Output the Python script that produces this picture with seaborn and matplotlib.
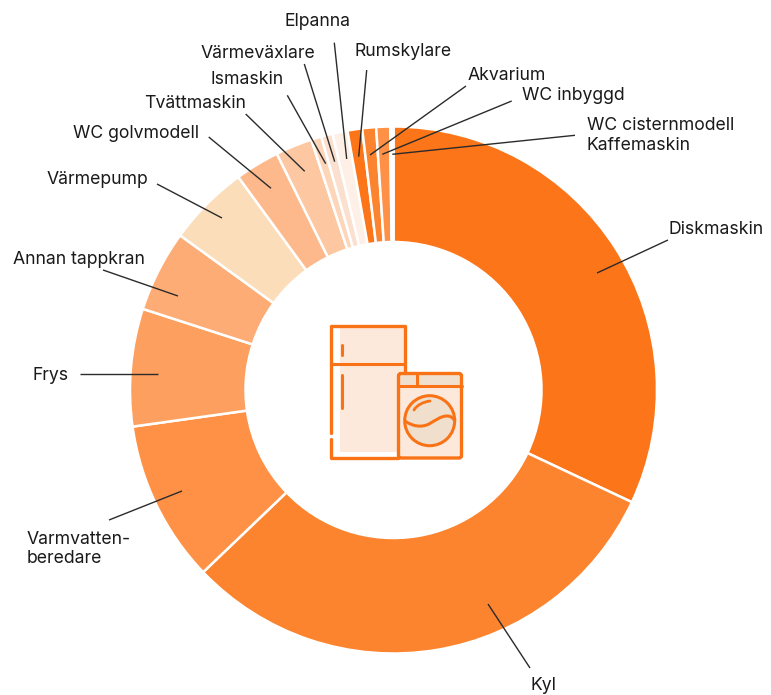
import matplotlib
matplotlib.use('Agg')
import matplotlib.pyplot as plt
import seaborn as sns
from matplotlib.patches import Rectangle, Circle, PathPatch, FancyBboxPatch
from matplotlib.path import Path

# Andelar per apparat (procent), medurs från kl 12
apparater = ['Diskmaskin', 'Kyl', 'Varmvatten-\nberedare', 'Frys', 'Annan tappkran', 'Värmepump',
             'WC golvmodell', 'Tvättmaskin', 'Ismaskin', 'Värmeväxlare', 'Elpanna', 'Rumskylare',
             'Akvarium', 'WC inbyggd', 'WC cisternmodell', 'Kaffemaskin']
andelar = [32.0, 30.85, 9.93, 7.2, 5.0, 5.0, 2.72, 2.25, 0.63, 0.7, 0.92, 0.9, 0.85, 0.85, 0.1, 0.1]
farger = ['#FC7518', '#FD842E', '#FE9146', '#FD9F5E', '#FEAC75', '#FBDDBA', '#FDB98B', '#FDC7A2',
          '#FDD5B9', '#FCE0CF', '#FEF0E7', '#FC7518', '#FD842E', '#FE9146', '#FEAC75', '#FDC7A2']

# Etiketter: vänsterkant x, mitten y, och linjens två ändar (pixlar i bilden)
etikett_x = [668, 530, 27, 33, 13, 47, 73, 144, 211, 201, 285, 355, 468, 522, 587, 587]
etikett_y = [230, 685, 549, 375, 259, 179, 133, 104, 79, 54, 21, 52, 75, 96, 125, 145]
linje_fran = [(668, 240), (530, 668), (109, 520), (80, 374), (103, 270), (157, 184), (208.7, 137),
              (245.7, 114), (287.3, 95.3), (304.3, 64), (334.3, 42.7), (366.7, 70), (466, 86),
              (511.7, 101), (575, 135.3), None]
linje_till = [(597, 273), (488, 604), (182, 491), (158, 374), (178, 296), (222, 218), (271, 188.3),
              (304.7, 171.3), (325.7, 163.7), (334.7, 161.7), (346.7, 159), (358.7, 156.7), (370, 155),
              (382.3, 154.3), (392.3, 154.3), None]

sns.set_theme(style='white')
plt.rcParams['font.family'] = ['Inter', 'DejaVu Sans']

B, H = 771, 695
fig = plt.figure(figsize=(B / 100, H / 100), dpi=100)
ax = fig.add_axes([0, 0, 1, 1])


def yy(y):
    return H - y


ax.pie(andelar, colors=farger, startangle=90, counterclock=False, center=(393.5, yy(390)), radius=263.5,
       wedgeprops={'width': 115.5, 'edgecolor': 'white', 'linewidth': 1.8}, normalize=True)
ax.set_xlim(0, B)
ax.set_ylim(0, H)
ax.set_aspect('equal')
ax.axis('off')

for namn, x, y, a, b in zip(apparater, etikett_x, etikett_y, linje_fran, linje_till):
    ax.text(x, yy(y), namn, fontsize=12.7, color='#1a1a1a', ha='left', va='center', linespacing=1.2)
    if a is not None:
        ax.plot([a[0], b[0]], [yy(a[1]), yy(b[1])], color='#2b2b2b', lw=1.0, solid_capstyle='butt')

# Ikonen i mitten: kyl och tvättmaskin
orange = '#F97316'
ljus = '#FDE9DC'
beige = '#F0DFCD'

ax.add_patch(Rectangle((340, yy(452)), 65, 125, fc=ljus, ec='none'))
ax.plot([331, 331, 405, 405], [yy(433), yy(326), yy(326), yy(373)], color=orange, lw=2.4)
ax.plot([331, 331, 398], [yy(439), yy(458), yy(458)], color=orange, lw=2.4)
ax.plot([331, 405], [yy(364), yy(364)], color=orange, lw=2.2)
ax.plot([342, 342], [yy(345), yy(355)], color=orange, lw=2.2)
ax.plot([342, 342], [yy(375), yy(408)], color=orange, lw=2.2)

ax.add_patch(FancyBboxPatch((398.5, yy(458)), 63, 84.5, boxstyle='round,pad=0,rounding_size=2.5',
                            fc=ljus, ec='none'))
ax.add_patch(Rectangle((399, yy(386)), 62, 13, fc=beige, ec='none'))
ax.add_patch(FancyBboxPatch((398.5, yy(458)), 63, 84.5, boxstyle='round,pad=0,rounding_size=2.5',
                            fc='none', ec=orange, lw=2.4))
ax.plot([398.5, 461.5], [yy(386), yy(386)], color=orange, lw=2.2)
ax.plot([417, 417], [yy(373), yy(386)], color=orange, lw=2.2)
ax.add_patch(Circle((429.7, yy(420.7)), 25, fc=beige, ec=orange, lw=2.2))
vag = Path([(405, yy(421)), (412, yy(426)), (421, yy(428)), (429, yy(424)),
            (436, yy(420)), (441, yy(416)), (447, yy(416)), (451, yy(416)), (453, yy(418)), (455, yy(421))],
           [Path.MOVETO] + [Path.CURVE4] * 9)
ax.add_patch(PathPatch(vag, fc='none', ec=orange, lw=2.2))
glans = Path([(414, yy(410)), (417, yy(405)), (423, yy(402)), (430, yy(401))],
             [Path.MOVETO, Path.CURVE4, Path.CURVE4, Path.CURVE4])
ax.add_patch(PathPatch(glans, fc='none', ec=orange, lw=2, capstyle='round'))

fig.savefig('out.png', dpi=100)
